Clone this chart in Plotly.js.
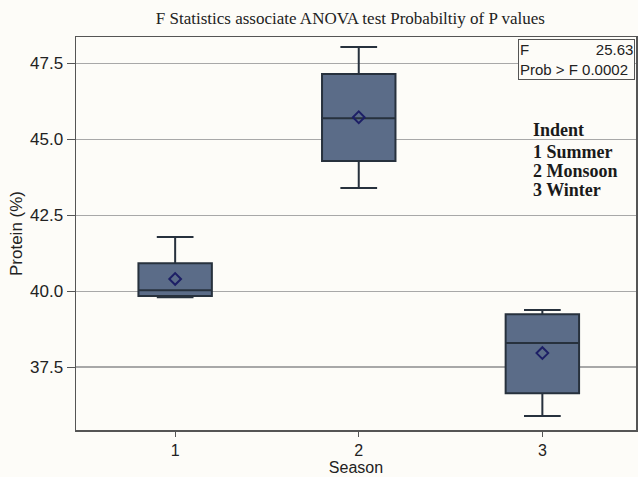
<!DOCTYPE html>
<html>
<head>
<meta charset="utf-8">
<script src="https://cdn.plot.ly/plotly-3.0.1.min.js"></script>
<style>body{margin:0;padding:0;background:#fdfcf8;}#chart{width:638px;height:477px;}</style>
</head>
<body>
<div id="chart"></div>
<script>
// Data
const seasons = [1, 2, 3];
const lowerWhisker = [39.80, 43.39, 35.89];
const q1Values = [39.84, 44.28, 36.64];
const medianValues = [40.03, 45.69, 38.29];
const q3Values = [40.92, 47.14, 39.24];
const upperWhisker = [41.78, 48.03, 39.38];
const meanValues = [40.40, 45.72, 37.96];
const yTicks = [37.5, 40.0, 42.5, 45.0, 47.5];
const yTickLabels = ['37.5', '40.0', '42.5', '45.0', '47.5'];
const xTickLabels = ['1', '2', '3'];
const statsLines = ['F\u00a0\u00a0\u00a0\u00a0\u00a0\u00a0\u00a0\u00a0\u00a0\u00a0\u00a0\u00a0\u00a0\u00a0\u00a0\u00a025.63', 'Prob > F 0.0002'];
const legendLines = ['Indent', '1 Summer', '2 Monsoon', '3 Winter'];

const boxTrace = {
  type: 'box',
  x: seasons,
  q1: q1Values,
  median: medianValues,
  q3: q3Values,
  lowerfence: lowerWhisker,
  upperfence: upperWhisker,
  width: 0.4,
  whiskerwidth: 0.5,
  fillcolor: '#5b6c88',
  line: {color: '#27313d', width: 2},
  boxpoints: false,
  hoverinfo: 'skip',
  showlegend: false
};

const meanTrace = {
  type: 'scatter',
  mode: 'markers',
  x: seasons,
  y: meanValues,
  marker: {symbol: 'diamond-open', size: 9, color: '#1d1f66', line: {width: 2, color: '#1d1f66'}},
  showlegend: false,
  hoverinfo: 'skip'
};

const legendY = [0.763, 0.707, 0.659, 0.611];
const legendAnnotations = legendLines.map((t, i) => ({
  xref: 'paper', yref: 'paper', x: 0.812, y: legendY[i], xanchor: 'left', yanchor: 'middle',
  text: '<b>' + t + '</b>', showarrow: false,
  font: {family: 'Liberation Serif, Times New Roman, serif', size: 18, color: '#1a1a1a'}
}));

const layout = {
  width: 638,
  height: 477,
  paper_bgcolor: '#fdfcf8',
  plot_bgcolor: '#fdfcf8',
  margin: {l: 76, r: 2, t: 37, b: 47},
  showlegend: false,
  title: {
    text: 'F Statistics associate ANOVA test Probabiltiy of P values',
    font: {family: 'Liberation Serif, Times New Roman, serif', size: 17, color: '#222'},
    xref: 'paper', x: 0.49, xanchor: 'center',
    yref: 'container', y: 0.962, yanchor: 'middle'
  },
  xaxis: {
    range: [0.46, 3.51],
    tickvals: seasons,
    ticktext: xTickLabels,
    ticks: 'outside', ticklen: 5, tickcolor: '#555', tickwidth: 1,
    showgrid: false, zeroline: false,
    showline: true, linecolor: '#555', linewidth: 1.5, mirror: true,
    tickfont: {family: 'Liberation Sans, Arial, sans-serif', size: 16, color: '#222'},
    title: {text: 'Season', font: {family: 'Liberation Sans, Arial, sans-serif', size: 16, color: '#222'}, standoff: 2},
    automargin: false
  },
  yaxis: {
    range: [35.43, 48.36],
    tickvals: yTicks,
    ticktext: yTickLabels,
    ticks: 'outside', ticklen: 8, tickcolor: '#555', tickwidth: 1,
    showgrid: true, gridcolor: '#a8a8a8', gridwidth: 1.2,
    zeroline: false,
    showline: true, linecolor: '#555', linewidth: 1.5, mirror: true,
    tickfont: {family: 'Liberation Sans, Arial, sans-serif', size: 17, color: '#222'},
    title: {text: 'Protein (%)', font: {family: 'Liberation Sans, Arial, sans-serif', size: 17, color: '#222'}, standoff: 3},
    automargin: false
  },
  annotations: [
    {
      xref: 'paper', yref: 'paper', x: 0.999, y: 0.995, xanchor: 'right', yanchor: 'top',
      text: statsLines.join('<br>'), align: 'left', showarrow: false,
      font: {family: 'Liberation Sans, Arial, sans-serif', size: 15, color: '#222'},
      bordercolor: '#555', borderwidth: 1, borderpad: 1, bgcolor: '#fdfcf8'
    }
  ].concat(legendAnnotations)
};

Plotly.newPlot('chart', [boxTrace, meanTrace], layout, {displayModeBar: false, staticPlot: true});
</script>
</body>
</html>
